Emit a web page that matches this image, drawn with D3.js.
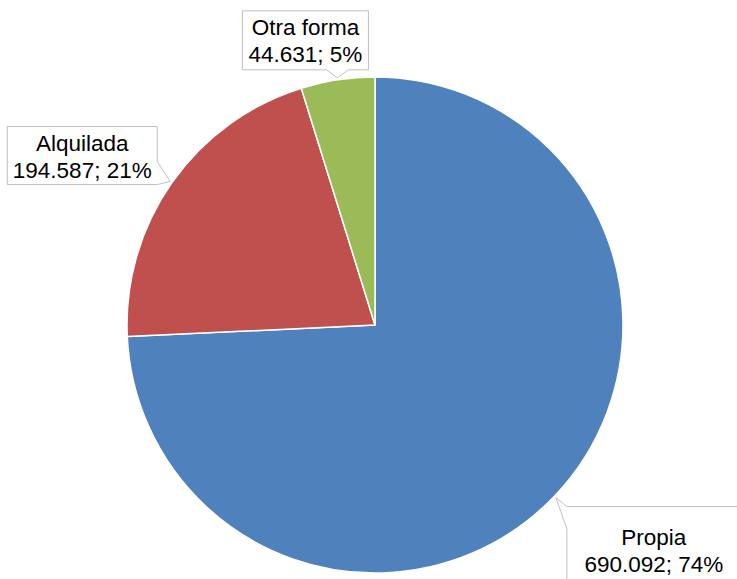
<!DOCTYPE html>
<html>
<head>
<meta charset="utf-8">
<script src="https://cdn.jsdelivr.net/npm/d3@7"></script>
<style>
  html, body { margin: 0; padding: 0; background: #fff; }
  svg { display: block; }
</style>
</head>
<body>
<div id="chart"></div>
<script>
// data
var categories = ['Propia', 'Alquilada', 'Otra forma'];
var values = [690092, 194587, 44631];
var percents = ['74%', '21%', '5%'];
var valueLabels = ['690.092', '194.587', '44.631'];
var colors = ['#4F81BD', '#C0504D', '#9BBB59'];

var width = 737, height = 579;
var cx = 375, cy = 325, radius = 248;

// callout boxes, relative to the pointer tip (layout only)
var callouts = [
  { dx0: 11, dy0: 9, dx1: 185, dy1: 95, side: 'topleft', base: 22, textTop: 38 },
  { dx0: -163, dy0: -55, dx1: -13, dy1: 3, side: 'right', base: 23, textTop: 24 },
  { dx0: -95, dy0: -67, dx1: 31, dy1: -8, side: 'bottom', base: 11, textTop: 24 }
];

var svg = d3.select('#chart').append('svg')
  .attr('width', width)
  .attr('height', height);

var pie = d3.pie()
  .sort(null)
  .value(function(d) { return d; });

var arcs = pie(values);

var arc = d3.arc()
  .innerRadius(0)
  .outerRadius(radius);

var g = svg.append('g')
  .attr('transform', 'translate(' + cx + ',' + cy + ')');

g.selectAll('path.slice')
  .data(arcs)
  .enter().append('path')
  .attr('class', 'slice')
  .attr('d', arc)
  .attr('fill', function(d, i) { return colors[i]; })
  .attr('stroke', '#fff')
  .attr('stroke-width', 1.5)
  .attr('stroke-linejoin', 'round');

// labels
arcs.forEach(function(d, i) {
  var mid = (d.startAngle + d.endAngle) / 2;
  var tr = radius + 2;
  var tx = cx + tr * Math.sin(mid);
  var ty = cy - tr * Math.cos(mid);
  var c = callouts[i];
  var x0 = tx + c.dx0, y0 = ty + c.dy0, x1 = tx + c.dx1, y1 = ty + c.dy1;
  var pts;
  if (c.side == 'bottom') {
    pts = [[x0, y0], [x1, y0], [x1, y1], [tx + c.base, y1], [tx, ty], [tx - c.base, y1], [x0, y1]];
  } else if (c.side == 'right') {
    pts = [[x0, y0], [x1, y0], [x1, y1 - c.base], [tx, ty], [x1, y1], [x0, y1]];
  } else {
    pts = [[x0, y0], [x1, y0], [x1, y1], [x0, y1], [x0, y0 + c.base], [tx, ty]];
  }

  svg.append('path')
    .attr('d', d3.line()(pts) + 'Z')
    .attr('fill', '#fff')
    .attr('stroke', '#BFBFBF')
    .attr('stroke-width', 1);

  var text = svg.append('text')
    .attr('x', (x0 + x1) / 2)
    .attr('y', y0 + c.textTop)
    .attr('text-anchor', 'middle')
    .style('font-family', '"Liberation Sans", Arial, sans-serif')
    .style('font-size', '22.5px')
    .style('fill', '#000');

  text.append('tspan')
    .attr('x', (x0 + x1) / 2)
    .text(categories[i]);
  text.append('tspan')
    .attr('x', (x0 + x1) / 2)
    .attr('dy', 27)
    .text(valueLabels[i] + '; ' + percents[i]);
});
</script>
</body>
</html>
